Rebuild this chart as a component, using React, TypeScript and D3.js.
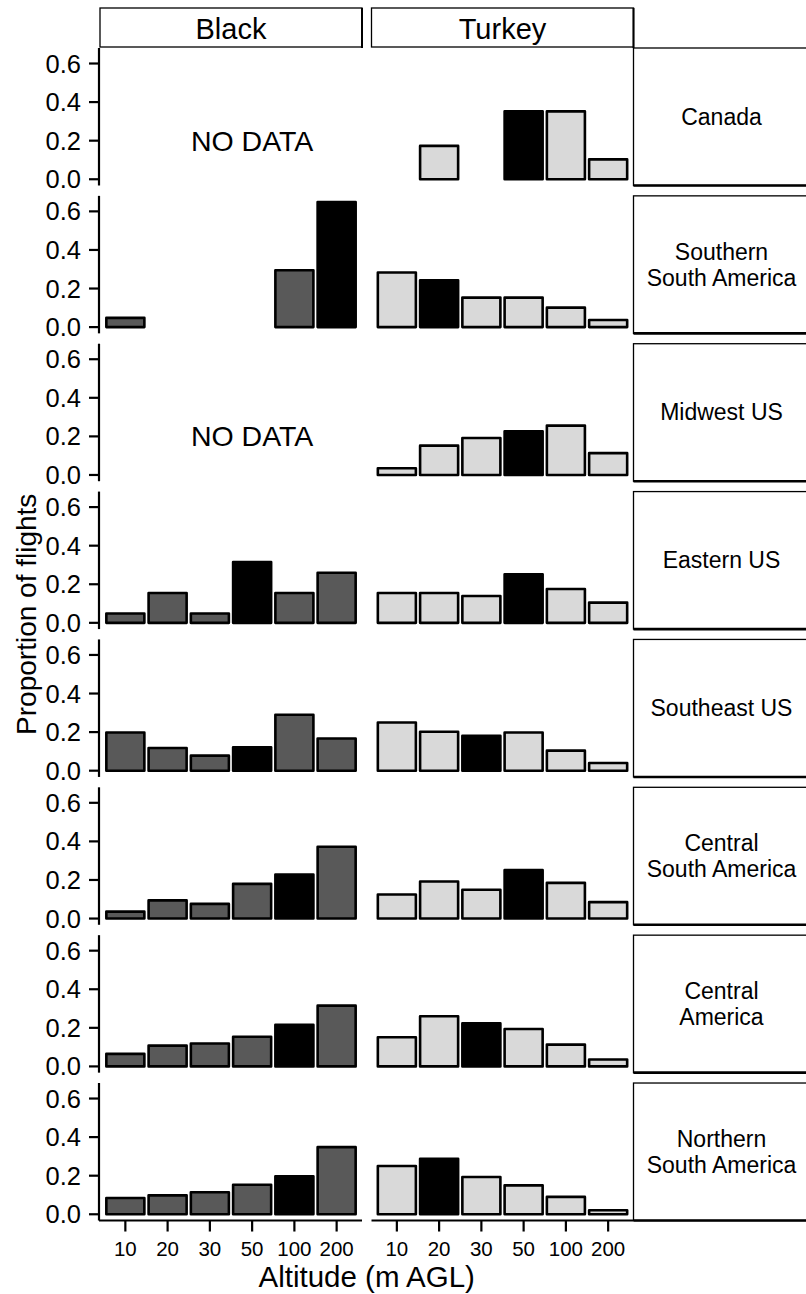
import * as d3 from "d3";

// categories
const altitudes = ["10", "20", "30", "50", "100", "200"];
const species = ["Black", "Turkey"];
const regions = [
  "Canada",
  "Southern\nSouth America",
  "Midwest US",
  "Eastern US",
  "Southeast US",
  "Central\nSouth America",
  "Central\nAmerica",
  "Northern\nSouth America",
];

// proportion of flights per altitude class (null = no bar / no data)
const blackProps = [
  null,
  [0.048, null, null, null, 0.295, 0.648],
  null,
  [0.048, 0.155, 0.048, 0.315, 0.155, 0.26],
  [0.198, 0.118, 0.078, 0.121, 0.29, 0.167],
  [0.036, 0.094, 0.076, 0.18, 0.228, 0.372],
  [0.065, 0.108, 0.119, 0.154, 0.216, 0.315],
  [0.084, 0.098, 0.114, 0.153, 0.197, 0.348],
];
const turkeyProps = [
  [null, 0.173, null, 0.352, 0.352, 0.103],
  [0.283, 0.243, 0.153, 0.153, 0.101, 0.037],
  [0.035, 0.152, 0.192, 0.226, 0.256, 0.113],
  [0.155, 0.155, 0.139, 0.252, 0.175, 0.105],
  [0.25, 0.202, 0.181, 0.198, 0.104, 0.04],
  [0.125, 0.192, 0.149, 0.251, 0.185, 0.085],
  [0.151, 0.26, 0.223, 0.194, 0.113, 0.036],
  [0.25, 0.288, 0.193, 0.15, 0.09, 0.021],
];
// index of the highlighted (black) altitude class
const blackMode = [null, 5, null, 3, 3, 4, 4, 4];
const turkeyMode = [3, 1, 3, 3, 2, 3, 2, 1];

const yTicks = [0, 0.2, 0.4, 0.6];
const xTitle = "Altitude (m AGL)";
const yTitle = "Proportion of flights";
const noDataLabel = "NO DATA";

const W = 806;
const H = 1294;
const FONT = "Arial, 'Liberation Sans', Helvetica, sans-serif";
const left = 100;
const panelW = 262;
const colGap = 9.5;
const top = 48;
const rowStep = 147.86;
const panelH = 137.5;
const stripTop = 8;
const rightStripW = 178;
const stripLine = 26;
const fills = ["#595959", "#d9d9d9"];

export default function App() {
  const allVals = [...blackProps, ...turkeyProps]
    .flatMap((r) => r || [])
    .filter((v) => v != null);
  const yMax = d3.max(allVals);
  const pad = yMax * 0.05;
  const y = d3.scaleLinear().domain([-pad, yMax + pad]).range([panelH, 0]);
  const x = d3
    .scaleBand()
    .domain(altitudes)
    .range([0, panelW])
    .paddingInner(0.1)
    .paddingOuter(0.15);
  const bw = x.bandwidth();
  const colX = species.map((_, i) => left + i * (panelW + colGap));
  const rightX = colX[1] + panelW;
  const bottom = top + (regions.length - 1) * rowStep + panelH;

  const series = [blackProps, turkeyProps];
  const modes = [blackMode, turkeyMode];

  return (
    <svg
      width={W}
      height={H}
      style={{ position: "absolute", left: 0, top: 0, background: "#fff" }}
      fontFamily={FONT}
    >
      {/* column strips */}
      {species.map((s, c) => (
        <g key={s} transform={`translate(${colX[c]},${stripTop})`}>
          <rect
            x={0}
            y={0}
            width={panelW}
            height={top - stripTop - 1}
            fill="#fff"
            stroke="#000"
            strokeWidth={1.3}
          />
          <line x1={panelW} x2={panelW} y1={0} y2={top - stripTop} stroke="#000" strokeWidth={2} />
          <text x={panelW / 2} y={31} textAnchor="middle" fontSize={29}>
            {s}
          </text>
        </g>
      ))}

      {regions.map((reg, r) => {
        const ty = top + r * rowStep;
        const lines = reg.split("\n");
        return (
          <g key={reg} transform={`translate(0,${ty})`}>
            {/* row strip */}
            <rect
              x={rightX}
              y={0}
              width={rightStripW}
              height={panelH}
              fill="#fff"
              stroke="#000"
              strokeWidth={1.3}
            />
            <line
              x1={rightX}
              x2={rightX + rightStripW}
              y1={panelH}
              y2={panelH}
              stroke="#000"
              strokeWidth={2.6}
            />
            {lines.map((l, i) => (
              <text
                key={i}
                x={rightX + 88}
                y={panelH / 2 + (i - (lines.length - 1) / 2) * stripLine}
                textAnchor="middle"
                fontSize={23}
                dominantBaseline="central"
              >
                {l}
              </text>
            ))}

            {/* y axis */}
            <line x1={left - 1} x2={left - 1} y1={0} y2={panelH} stroke="#000" strokeWidth={2.2} />
            {yTicks.map((t) => (
              <g key={t} transform={`translate(0,${y(t)})`}>
                <line x1={left - 11} x2={left - 1} stroke="#000" strokeWidth={2.2} />
                <text
                  x={left - 19}
                  textAnchor="end"
                  dominantBaseline="central"
                  fontSize={25.5}
                >
                  {t.toFixed(1)}
                </text>
              </g>
            ))}

            {species.map((s, c) => {
              const vals = series[c][r];
              const mode = modes[c][r];
              return (
                <g key={s} transform={`translate(${colX[c]},0)`}>
                  {vals == null ? (
                    <text
                      x={x(altitudes[3]) + bw / 2}
                      y={y(0.2)}
                      textAnchor="middle"
                      dominantBaseline="central"
                      fontSize={28.5}
                    >
                      {noDataLabel}
                    </text>
                  ) : (
                    vals.map((v, i) =>
                      v == null ? null : (
                        <rect
                          key={i}
                          x={x(altitudes[i])}
                          y={y(v)}
                          width={bw}
                          height={y(0) - y(v)}
                          fill={i === mode ? "#000" : fills[c]}
                          stroke="#000"
                          strokeWidth={2.6}
                          strokeLinejoin="round"
                        />
                      )
                    )
                  )}
                </g>
              );
            })}
          </g>
        );
      })}

      {/* x axes on bottom row */}
      {species.map((s, c) => (
        <g key={s} transform={`translate(${colX[c]},${bottom})`}>
          <line x1={c === 0 ? -1 : 0} x2={panelW} y1={0} y2={0} stroke="#000" strokeWidth={2.2} />
          {altitudes.map((a) => (
            <g key={a} transform={`translate(${x(a) + bw / 2},0)`}>
              <line y1={0} y2={11} stroke="#000" strokeWidth={2.2} />
              <text y={35} textAnchor="middle" fontSize={20.5}>
                {a}
              </text>
            </g>
          ))}
        </g>
      ))}

      <text x={(left + rightX) / 2} y={1287} textAnchor="middle" fontSize={29.5}>
        {xTitle}
      </text>
      <text
        transform={`translate(36,${(stripTop + bottom) / 2}) rotate(-90)`}
        textAnchor="middle"
        fontSize={28}
      >
        {yTitle}
      </text>
    </svg>
  );
}
